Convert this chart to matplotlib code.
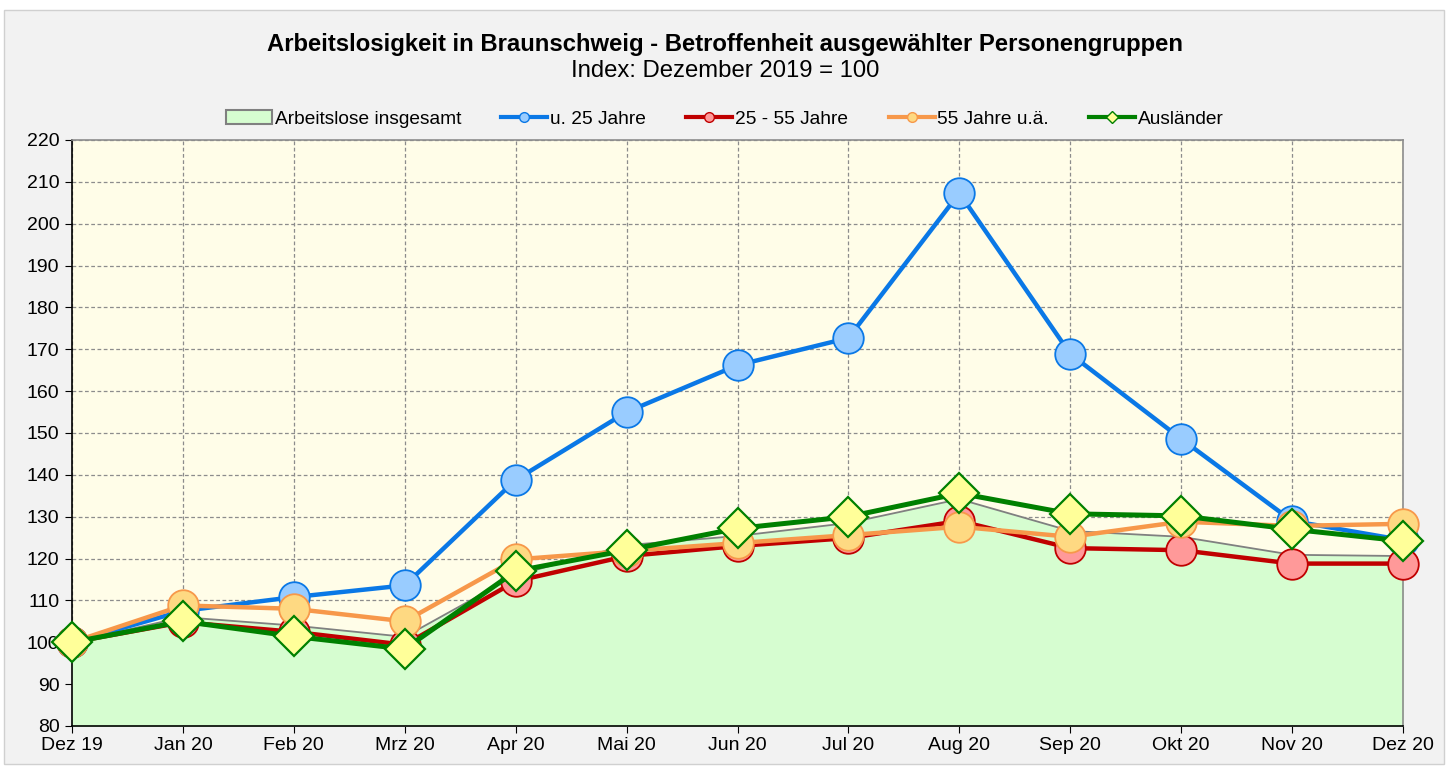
import matplotlib
matplotlib.use('Agg')
import matplotlib.pyplot as plt
from matplotlib.patches import Rectangle, Patch
from matplotlib.lines import Line2D

plt.rcParams['font.family'] = ['Liberation Sans', 'DejaVu Sans']

months = ['Dez 19', 'Jan 20', 'Feb 20', 'Mrz 20', 'Apr 20', 'Mai 20', 'Jun 20',
          'Jul 20', 'Aug 20', 'Sep 20', 'Okt 20', 'Nov 20', 'Dez 20']

insgesamt = [100, 106.0, 104.0, 101.3, 116.0, 123.2, 125.4, 128.5, 134.2, 126.6, 125.2, 120.9, 120.6]
unter25 = [100, 107.5, 110.8, 113.6, 138.8, 155.0, 166.2, 172.7, 207.3, 168.9, 148.6, 129.0, 124.4]
mitte = [100, 104.8, 102.5, 99.4, 114.6, 120.6, 123.0, 124.9, 129.0, 122.5, 122.0, 118.8, 118.8]
ueber55 = [100, 108.8, 108.0, 105.0, 119.8, 121.8, 123.7, 125.6, 127.6, 125.2, 128.8, 127.8, 128.3]
auslaender = [100, 105.0, 101.4, 98.4, 117.0, 122.0, 127.2, 130.0, 135.6, 130.7, 130.2, 127.0, 124.2]

fig = plt.figure(figsize=(14.5, 7.66), dpi=100)
fig.patch.set_facecolor('white')
fig.patches.append(Rectangle((4 / 1450, 2 / 766), 1440 / 1450, 754 / 766, transform=fig.transFigure,
                             facecolor='#f2f2f2', edgecolor='#d0d0d0', linewidth=1, zorder=-10))

ax = fig.add_axes([72 / 1450, 40 / 766, 1331 / 1450, 586 / 766])
ax.set_facecolor('#fffde8')
x = list(range(len(months)))

ax.fill_between(x, 80, insgesamt, color='#d6fdd0', zorder=1)
ax.plot(x, insgesamt, color='#808080', linewidth=1.3, zorder=2)

ax.plot(x, unter25, color='#0a78e6', linewidth=3.2, marker='o', markersize=22,
        markerfacecolor='#99ccff', markeredgecolor='#0a78e6', markeredgewidth=1.3, zorder=3, clip_on=False)
ax.plot(x, mitte, color='#c00000', linewidth=3.2, marker='o', markersize=22,
        markerfacecolor='#ff9999', markeredgecolor='#c00000', markeredgewidth=1.3, zorder=4, clip_on=False)
ax.plot(x, ueber55, color='#f7984a', linewidth=3.2, marker='o', markersize=22,
        markerfacecolor='#fed982', markeredgecolor='#f7984a', markeredgewidth=1.3, zorder=5, clip_on=False)
ax.plot(x, auslaender, color='#008000', linewidth=3.6, marker='D', markersize=20,
        markerfacecolor='#ffff99', markeredgecolor='#008000', markeredgewidth=1.6, zorder=6, clip_on=False)

ax.set_xlim(0, 12)
ax.set_ylim(80, 220)
ax.set_yticks(range(80, 221, 10))
ax.set_xticks(x)
ax.set_xticklabels(months)
ax.tick_params(axis='both', labelsize=14, direction='out', length=5, color='black')
ax.tick_params(axis='y', pad=4)
ax.tick_params(axis='x', pad=3)
ax.grid(True, color='#8c8c8c', linestyle=(0, (3, 2)), linewidth=0.9, zorder=0)
ax.set_axisbelow(True)
for side in ['left', 'bottom']:
    ax.spines[side].set_color('black')
    ax.spines[side].set_linewidth(1.2)
for side in ['top', 'right']:
    ax.spines[side].set_color('#8c8c8c')
    ax.spines[side].set_linewidth(1.2)

fig.text(0.5, 1 - 44 / 766, 'Arbeitslosigkeit in Braunschweig - Betroffenheit ausgewählter Personengruppen',
         ha='center', va='center', fontsize=17.2, fontweight='bold')
fig.text(0.5, 1 - 71 / 766, 'Index: Dezember 2019 = 100', ha='center', va='center', fontsize=17.2)

handles = [
    Patch(facecolor='#d6fdd0', edgecolor='#808080', linewidth=1.5),
    Line2D([], [], color='#0a78e6', linewidth=3, marker='o', markersize=7,
           markerfacecolor='#99ccff', markeredgecolor='#0a78e6'),
    Line2D([], [], color='#c00000', linewidth=3, marker='o', markersize=7,
           markerfacecolor='#ff9999', markeredgecolor='#c00000'),
    Line2D([], [], color='#f7984a', linewidth=3, marker='o', markersize=7,
           markerfacecolor='#fed982', markeredgecolor='#f7984a'),
    Line2D([], [], color='#008000', linewidth=3, marker='D', markersize=6,
           markerfacecolor='#ffff99', markeredgecolor='#008000'),
]
labels = ['Arbeitslose insgesamt', 'u. 25 Jahre', '25 - 55 Jahre', '55 Jahre u.ä.', 'Ausländer']
fig.legend(handles, labels, loc='center', bbox_to_anchor=(0.5, 1 - 119 / 766), ncol=5, frameon=False,
           fontsize=13.8, handlelength=2.4, handletextpad=0.15, columnspacing=2.1)

fig.savefig('out.png', dpi=100, facecolor=fig.get_facecolor())
